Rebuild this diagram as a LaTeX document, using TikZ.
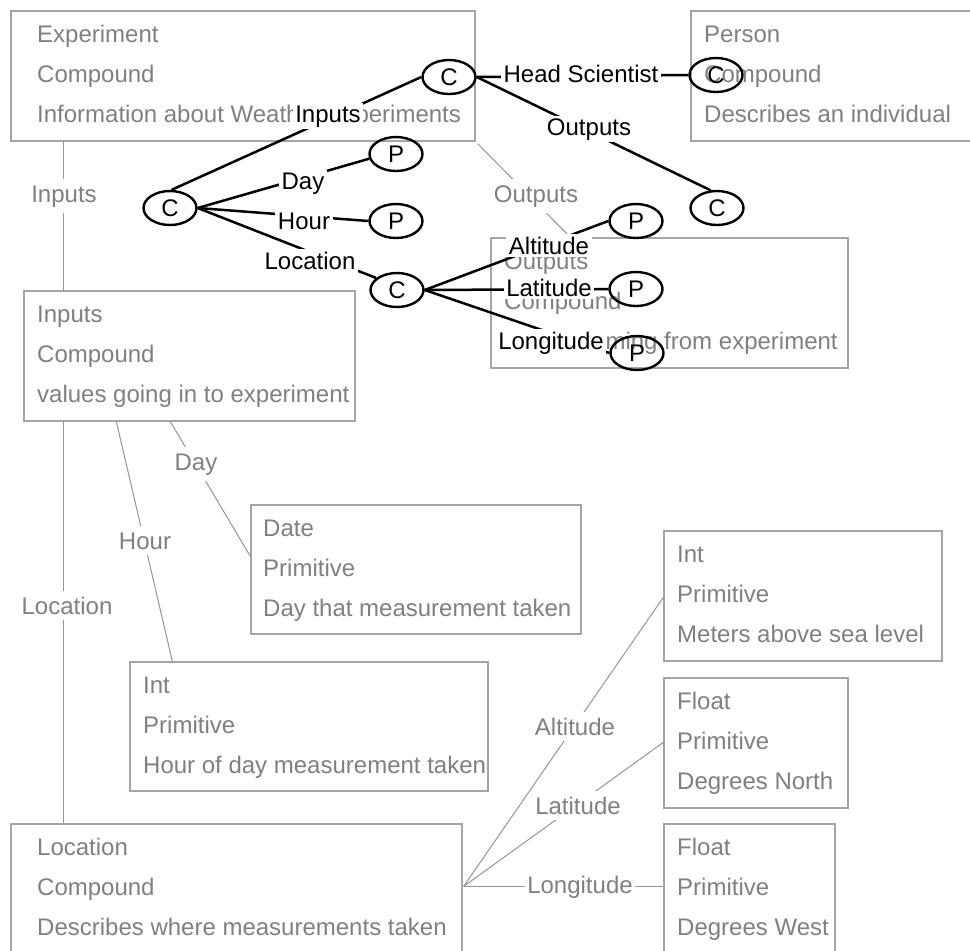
\documentclass[tikz,border=0pt]{standalone}
\usepackage{fontspec}
\setmainfont{Liberation Sans}
\usetikzlibrary{shapes.geometric,fit,calc}
\definecolor{gtext}{RGB}{128,128,128}
\definecolor{gedge}{RGB}{165,165,165}
\definecolor{gconn}{RGB}{150,150,150}
\tikzset{
 gbox/.style={draw=gedge, line width=1.3pt, inner sep=0pt, rectangle},
 gtxt/.style={text=gtext, anchor=base west, inner sep=0pt},
 glbl/.style={text=gtext, fill=white, anchor=base, inner xsep=2pt, inner ysep=6pt},
 gline/.style={draw=gconn, line width=1pt},
 bline/.style={draw=black, line width=2.5pt},
 blbl/.style={text=black, fill=white, anchor=base, inner xsep=2.5pt, inner ysep=2.5pt},
 oval/.style={ellipse, draw=black, line width=2.4pt, minimum width=53pt, minimum height=34pt, inner sep=0pt},
}
\newcommand{\databox}[9]{%
 \node[gbox, fit={(#2,#3) (#4,#5)}] (#1) {};
 \node[gtxt] (#1-a) at (#2+#6,#3+31) {#7};
 \node[gtxt] (#1-b) at (#2+#6,#3+71) {#8};
 \node[gtxt] (#1-c) at (#2+#6,#3+111) {#9};
}
\begin{document}
\begin{tikzpicture}[x=1pt, y=-1pt, font=\fontsize{24}{28}\selectfont]
\useasboundingbox (0,0) rectangle (970,951);
\clip (0,0) rectangle (970,951);
\fill[white] (0,0) rectangle (970,951);

% gray data boxes
\databox{exp}{11}{11}{475}{141}{26}{Experiment}{Compound}{Information about Weather Experiments}
\databox{person}{691}{11}{990}{141}{13}{Person}{Compound}{Describes an individual}
\databox{outputs}{491}{238}{848}{368}{13}{Outputs}{Compound}{values coming from experiment}
\databox{inputs}{24}{291}{355}{421}{13}{Inputs}{Compound}{values going in to experiment}
\databox{date}{251}{505}{581}{634}{12}{Date}{Primitive}{Day that measurement taken}
\databox{intalt}{664}{531}{942}{661}{13}{Int}{Primitive}{Meters above sea level}
\databox{inthour}{130}{662}{488}{791}{13}{Int}{Primitive}{Hour of day measurement taken}
\databox{floatn}{664}{678}{848}{808}{13}{Float}{Primitive}{Degrees North}
\databox{loc}{11}{824}{462}{962}{26}{Location}{Compound}{Describes where measurements taken}
\databox{floatw}{664}{824}{835}{962}{13}{Float}{Primitive}{Degrees West}

% gray connectors
\coordinate (locpt) at ($(loc.north east)+(1,63)$);
\draw[gline] ($(exp.south west)+(53,0)$) -- ($(inputs.north west)+(40,0)$);
\draw[gline] ($(inputs.south west)+(40,0)$) -- ($(loc.north west)+(53,0)$);
\draw[gline] ($(exp.south east)+(2,2)$) -- ($(outputs.north west)+(80,0)$);
\draw[gline] ($(inputs.south west)+(147,0)$) -- ($(date.north west)+(0,52)$);
\draw[gline] ($(inputs.south west)+(93,0)$) -- ($(inthour.north west)+(43,0)$);
\draw[gline] (locpt) -- ($(intalt.north west)+(0,67)$);
\draw[gline] (locpt) -- ($(floatn.north west)+(0,65)$);
\draw[gline] (locpt) -- ($(floatw.north west)+(0,63)$);

% gray labels
\node[glbl] (gl-inputs) at (64,202) {Inputs};
\node[glbl] (gl-location) at (67,614) {Location};
\node[glbl] (gl-outputs) at (536,202) {Outputs};
\node[glbl] (gl-day) at (196,470) {Day};
\node[glbl] (gl-hour) at (145,549) {Hour};
\node[glbl] (gl-alt) at (575,735) {Altitude};
\node[glbl] (gl-lat) at (578,814) {Latitude};
\node[glbl] (gl-lon) at (580,893) {Longitude};

% black schema tree
\node[oval] (ctop) at (449,77) {C};
\node[oval] (cin) at (170,208) {C};
\node[oval] (pday) at (396,154) {P};
\node[oval] (phour) at (396,221) {P};
\node[oval] (cloc) at (397,290) {C};
\node[oval] (palt) at (636,221) {P};
\node[oval] (plat) at (636,289) {P};
\node[oval] (plon) at (637,353) {P};
\node[oval] (cperson) at (716,75) {C};
\node[oval] (cout) at (717,208) {C};

\draw[bline] (ctop.west) -- (cin.85);
\draw[bline] (ctop.east) -- (cperson.west);
\draw[bline] (ctop.east) -- (cout.110);
\draw[bline] (cin.east) -- (pday.190);
\draw[bline] (cin.east) -- (phour.west);
\draw[bline] (cin.east) -- (cloc.150);
\draw[bline] (cloc.east) -- (palt.west);
\draw[bline] (cloc.east) -- (plat.west);
\draw[bline] (cloc.east) -- (plon.west);

\node[blbl] (bl-head) at (581,82) {Head Scientist};
\node[blbl] (bl-outputs) at (589,135) {Outputs};
\node[blbl] (bl-inputs) at (328,122) {Inputs};
\node[blbl] (bl-day) at (303,189) {Day};
\node[blbl] (bl-hour) at (304,229) {Hour};
\node[blbl] (bl-location) at (310,269) {Location};
\node[blbl] (bl-alt) at (549,254) {Altitude};
\node[blbl] (bl-lat) at (549,296) {Latitude};
\node[blbl] (bl-lon) at (551,349) {Longitude};
\end{tikzpicture}
\end{document}
